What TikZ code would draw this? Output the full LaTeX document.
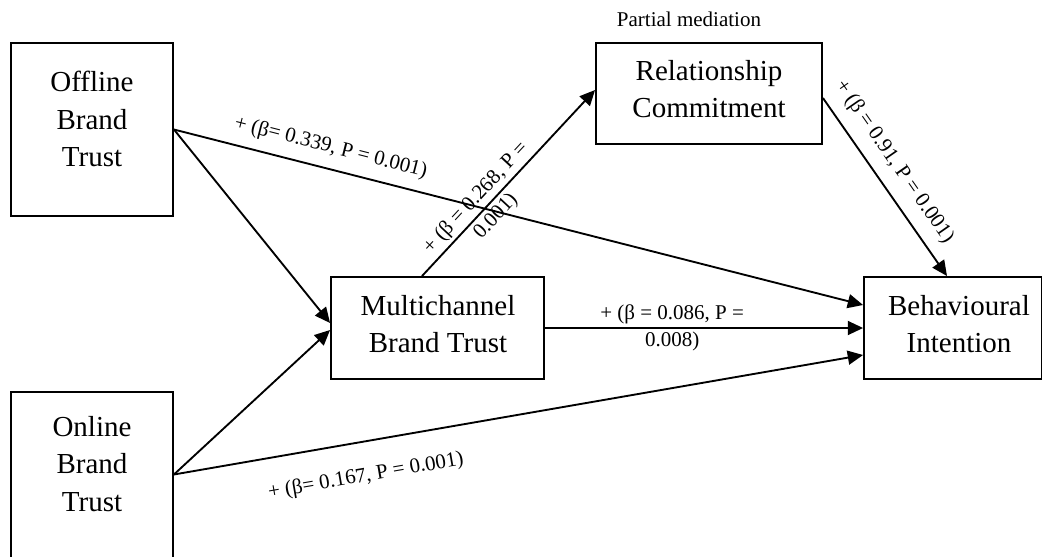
\documentclass[tikz,border=0pt]{standalone}
\usepackage{fontspec}
\setmainfont{Liberation Serif}
\usetikzlibrary{arrows.meta,calc}
\begin{document}
\begin{tikzpicture}[x=0.75pt,y=-0.75pt,
  box/.style={draw, line width=1.4pt, inner sep=0pt},
  boxtext/.style={align=center, inner sep=0pt, font=\fontsize{21.75pt}{28.1pt}\selectfont},
  lab/.style={font=\fontsize{15.75pt}{20.4pt}\selectfont, align=center, inner sep=2pt},
  conn/.style={line width=1.4pt, -{Triangle[length=11.5pt,width=10.5pt]}}]
\useasboundingbox (0,0) rectangle (1043,557);
% boxes
\node[box, minimum width=121.5pt, minimum height=129.75pt] (off) at (92,129.5) {};
\node[box, minimum width=121.5pt, minimum height=127.5pt] (onl) at (92,477) {};
\node[box, minimum width=159.75pt, minimum height=76.5pt] (mc) at (437.5,328) {};
\node[box, minimum width=169.5pt, minimum height=75.75pt] (rel) at (709,93.5) {};
\node[box, minimum width=133.1pt, minimum height=76.5pt] (beh) at (952.75,328) {};
% box texts
\node[boxtext] (offt) at (92,119) {Offline\\Brand\\Trust};
\node[boxtext] (onlt) at (92,464) {Online\\Brand\\Trust};
\node[boxtext] (mct) at (438,324) {Multichannel\\Brand Trust};
\node[boxtext] (relt) at (709,89) {Relationship\\Commitment};
\node[boxtext] (beht) at (959,324) {Behavioural\\Intention};
\node[lab] (pm) at (689,19.6) {Partial mediation};
% connectors
\draw[conn] (off.east) -- ($(beh.west)+(0,-23)$)
  node[lab, sloped, pos=0.22, above=6pt] (l1) {+ (β= 0.339, P = 0.001)};
\draw[conn] (off.east) -- ($(mc.west)+(0,-5)$);
\draw[conn] ($(onl.east)+(0,-2.5)$) -- ($(mc.west)+(0,2)$);
\draw[conn] ($(onl.east)+(0,-2.5)$) -- ($(beh.west)+(0,27)$)
  node[lab, sloped, pos=0.27, below=16pt] (l2) {+ (β= 0.167, P = 0.001)};
\draw[conn] (mc.east) -- (beh.west)
  node[lab, pos=0.4] (l3) {+ (β = 0.086, P =\\0.008)};
\draw[conn] ($(mc.north)+(-15.5,0)$) -- ($(rel.west)+(0,-3.5)$)
  node[lab, sloped, pos=0.37] (l4) {+ (β = 0.268, P =\\0.001)};
\draw[conn] ($(rel.east)+(0,4.5)$) -- ($(beh.north)+(-5.75,0)$)
  node[lab, sloped, pos=0.43, above=6.6pt] (l5) {+ (β = 0.91, P = 0.001)};
\end{tikzpicture}
\end{document}
